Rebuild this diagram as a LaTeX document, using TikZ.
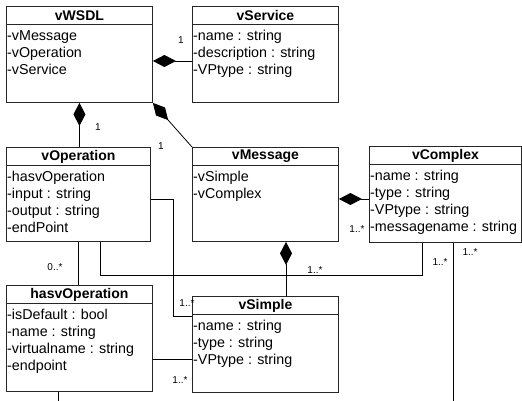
\documentclass[tikz,border=0pt]{standalone}
\usepackage{fontspec}
\setmainfont{Liberation Sans}
\usetikzlibrary{arrows.meta,calc}

\tikzset{
  classbox/.style={draw=black!85, line width=0.9pt, fill=white, anchor=north west, inner sep=0pt},
  classtitle/.style={font=\fontsize{14}{17}\selectfont\bfseries, anchor=center, inner sep=0pt},
  attrs/.style={font=\fontsize{14.3}{17}\selectfont, align=left, anchor=north west, inner sep=0pt},
  link/.style={draw=black, line width=0.8pt},
  comp/.style={link, {Diamond[length=23pt, width=12pt, fill=black]}-},
  mult/.style={font=\fontsize{10}{12}\selectfont, inner sep=0pt},
}

% one UML class: name, left, top, width, height, title, attribute lines
\newcommand{\umlclass}[7]{%
  \node[classbox, minimum width=#4pt, minimum height=#5pt] (#1) at (#2,#3) {};
  \draw[draw=black!85, line width=0.8pt] ([yshift=-18pt]#1.north west) -- ([yshift=-18pt]#1.north east);
  \node[classtitle] (#1-title) at ([yshift=-9.5pt]#1.north) {#6};
  \node[attrs] (#1-attrs) at ([xshift=1pt,yshift=-24pt]#1.north west) {#7};
}

\begin{document}
\begin{tikzpicture}[x=1pt, y=-1pt]
  \useasboundingbox (0,0) rectangle (522,401);

  % classes
  \umlclass{wsdl}{6}{6}{146}{96}{vWSDL}{-vMessage\\-vOperation\\-vService}
  \umlclass{service}{192}{6}{146}{96}{vService}{-name : string\\-description : string\\-VPtype : string}
  \umlclass{operation}{6}{147}{144}{94}{vOperation}{-hasvOperation\\-input : string\\-output : string\\-endPoint}
  \umlclass{message}{192}{147}{146}{94}{vMessage}{-vSimple\\-vComplex}
  \umlclass{complex}{369}{146}{152}{96}{vComplex}{-name : string\\-type : string\\-VPtype : string\\-messagename : string}
  \umlclass{hasv}{6}{285}{146}{106}{hasvOperation}{-isDefault : bool\\-name : string\\-virtualname : string\\-endpoint}
  \umlclass{simple}{192}{296}{146}{96}{vSimple}{-name : string\\-type : string\\-VPtype : string}

  % free ends leaving the drawing at the bottom
  \coordinate (hasvEnd) at (58,401);
  \coordinate (complexEnd) at (453,401);

  % compositions
  \draw[comp] ([yshift=-55pt]wsdl.north east) -- ([yshift=-55pt]service.north west);
  \draw[comp] (wsdl.south) -- (wsdl.south |- operation.north);
  \draw[comp] (wsdl.south east) -- (message.north west);
  \draw[comp] ([yshift=-52pt]message.north east) -- ([yshift=-52pt]message.north east -| complex.west);
  \draw[comp] ([xshift=94pt]message.south west) -- ([xshift=94pt]message.south west |- simple.north);

  % associations
  \draw[link] (operation.south) -- (operation.south |- hasv.north);
  \draw[link] ([yshift=-52pt]operation.north east) -- ++(22,0) |- ([yshift=-20pt]simple.north west);
  \draw[link] ([yshift=-74pt]hasv.north east) -- ([yshift=-74pt]hasv.north east -| simple.west);
  \draw[link] ([xshift=94pt]operation.south west) -- ++(0,33) -| ([xshift=53pt]complex.south west);
  \draw[link] ([xshift=52pt]hasv.south west) -- (hasvEnd);
  \draw[link] ([xshift=84pt]complex.south west) -- (complexEnd);

  % multiplicities
  \node[mult] (m1) at (181,40) {1};
  \node[mult] (m2) at (98,127) {1};
  \node[mult] (m3) at (161,146) {1};
  \node[mult] (m4) at (55,267) {0..*};
  \node[mult] (m5) at (357,229) {1..*};
  \node[mult] (m6) at (315,270) {1..*};
  \node[mult] (m7) at (440,262) {1..*};
  \node[mult] (m8) at (470,252) {1..*};
  \node[mult] (m9) at (187,303) {1..*};
  \node[mult] (m10) at (180,380) {1..*};
\end{tikzpicture}
\end{document}
